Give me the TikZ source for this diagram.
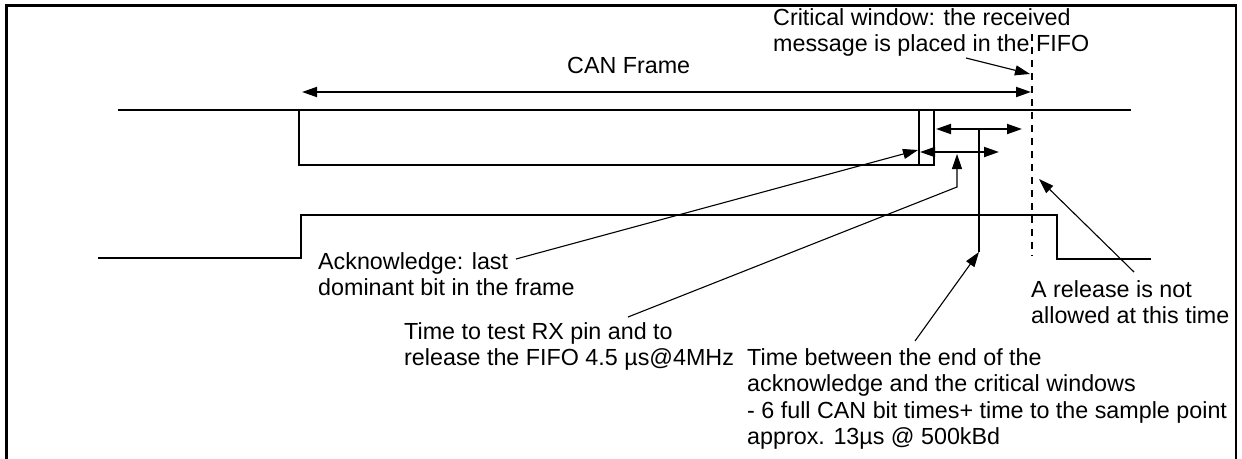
\documentclass[tikz,border=0pt]{standalone}
\usepackage{fontspec}
\setmainfont{Liberation Sans}
\usetikzlibrary{arrows.meta}
\begin{document}
\begin{tikzpicture}[x=1pt,y=-1pt,
  sig/.style={line width=1.9pt},
  tip/.tip={Triangle[length=15pt,width=10pt]},
  ptr/.style={line width=1.1pt,-tip},
  dim/.style={line width=1.9pt,tip-tip},
  lbl/.style={anchor=base west,inner sep=0pt,font=\fontsize{23.3}{28}\selectfont},
]
\useasboundingbox (0,0) rectangle (1242,458);
% frame
\draw[line width=2.4pt] (6.5,470) -- (6.5,5.5) -- (1236,5.5) -- (1236,470);
% coordinates
\coordinate (tA) at (118,110);
\coordinate (tB) at (1131,110);
\coordinate (b1) at (299,110);
\coordinate (b2) at (299,165);
\coordinate (b3) at (934,165);
\coordinate (b4) at (934,110);
\coordinate (k1) at (919,110);
\coordinate (k2) at (919,165);
\coordinate (lA) at (98,258);
\coordinate (l1) at (301,258);
\coordinate (l2) at (301,215);
\coordinate (l3) at (1057,215);
\coordinate (l4) at (1057,259);
\coordinate (lB) at (1151,259);
\coordinate (fL) at (302,92);
\coordinate (fR) at (1031,92);
\coordinate (dT) at (1032,34);
\coordinate (dB) at (1032,256);
\coordinate (uL) at (936,129);
\coordinate (uR) at (1022,129);
\coordinate (uS) at (979,129);
\coordinate (uE) at (979,252);
\coordinate (wL) at (920,152);
\coordinate (wR) at (999,152);
\coordinate (wS) at (957,187);
\coordinate (wT) at (957,154);
\coordinate (ackT) at (918,150);
\coordinate (relT) at (1039,179);
\coordinate (criT) at (1030,74);
% signals
\draw[sig] (tA) -- (tB);
\draw[sig] (b1) -- (b2) -- (b3) -- (b4);
\draw[sig] (k1) -- (k2);
\draw[sig] (lA) -- (l1) -- (l2) -- (l3) -- (l4) -- (lB);
\draw[line width=1.5pt,dash pattern=on 7pt off 6pt] (dT) -- (dB);
% dimension arrows
\draw[dim] (fL) -- (fR);
\draw[dim] (uL) -- (uR);
\draw[sig] (uS) -- (uE);
\draw[dim] (wL) -- (wR);
% texts
\node[lbl] (crit1) at (773,25) {Critical window: the received};
\node[lbl] (crit2) at (773,51) {message is placed in the FIFO};
\node[lbl] (canf) at (567,73) {CAN Frame};
\node[lbl] (ack1) at (318,269) {Acknowledge: last};
\node[lbl] (ack2) at (318,295) {dominant bit in the frame};
\node[lbl] (rel1) at (1031,297) {A release is not};
\node[lbl] (rel2) at (1031,323) {allowed at this time};
\node[lbl] (tst1) at (404,339) {Time to test RX pin and to};
\node[lbl] (tst2) at (404,365) {release the FIFO 4.5 µs@4MHz};
\node[lbl] (btw1) at (747,365) {Time between the end of the};
\node[lbl] (btw2) at (747,391) {acknowledge and the critical windows};
\node[lbl] (btw3) at (747,418) {- 6 full CAN bit times+ time to the sample point};
\node[lbl] (btw4) at (747,444) {approx. 13µs @ 500kBd};
% pointer start points
\coordinate (ackS) at (516,259);
\coordinate (tstS) at (628,317);
\coordinate (btwS) at (915,341);
\coordinate (relS) at (1134,272);
\coordinate (criS) at (966,58);
% pointers
\draw[ptr] (ackS) -- (ackT);
\draw[ptr] (tstS) -- (wS) -- (wT);
\draw[ptr] (btwS) -- (uE);
\draw[ptr] (relS) -- (relT);
\draw[ptr] (criS) -- (criT);
\end{tikzpicture}
\end{document}
